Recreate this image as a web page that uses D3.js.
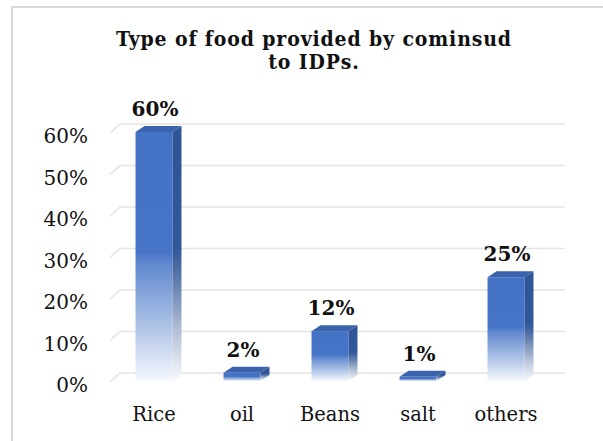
<!DOCTYPE html>
<html>
<head>
<meta charset="utf-8">
<script src="https://cdn.jsdelivr.net/npm/d3@7"></script>
<style>
  html, body { margin: 0; padding: 0; background: #fff; }
  svg { display: block; }
  text { font-family: "DejaVu Serif", "Liberation Serif", serif; fill: #111; }
</style>
</head>
<body>
<svg id="chart" width="603" height="441"></svg>
<script>
// Food types distributed and their shares
const categories = ["Rice", "oil", "Beans", "salt", "others"];
const shares = [0.60, 0.02, 0.12, 0.01, 0.25];
const tickValues = [0, 0.1, 0.2, 0.3, 0.4, 0.5, 0.6];
const titleLines = ["Type of food provided by cominsud", "to IDPs."];

const svg = d3.select("#chart");
const W = 603, H = 441;

// outer frame
svg.append("rect")
  .attr("x", 12).attr("y", 7)
  .attr("width", W).attr("height", H)
  .attr("fill", "#fff")
  .attr("stroke", "#d9d9d9").attr("stroke-width", 2);

// plotting area
const plot = { left: 110, right: 550, bottom: 381, top: 132 };
const floorDx = 10, floorDy = -9;   // depth of back wall
const barDx = 9, barDy = -6;        // depth of each column

const x = d3.scaleBand()
  .domain(categories)
  .range([plot.left, plot.right])
  .paddingInner(0.58)
  .paddingOuter(0.29);

const y = d3.scaleLinear()
  .domain([0, 0.6])
  .range([plot.bottom, plot.top]);

const fmt = d3.format(".0%");

// gridlines on the back wall with the floor diagonal at the left
const grid = svg.append("g").attr("stroke", "#e4e4e4").attr("stroke-width", 1.6).attr("fill", "none");
tickValues.forEach(v => {
  const yy = y(v) + 1;
  grid.append("path")
    .attr("d", `M${plot.left},${yy} L${plot.left + floorDx},${yy + floorDy} L${plot.right + 15},${yy + floorDy}`);
});

// y axis labels
svg.append("g").selectAll("text")
  .data(tickValues)
  .join("text")
  .attr("x", 88)
  .attr("y", d => y(d) + 4)
  .attr("dy", "0.35em")
  .attr("text-anchor", "end")
  .attr("font-size", 20)
  .text(d => fmt(d));

// gradients: solid blue in the upper half, fading out toward the base
const defs = svg.append("defs");
function fade(id, stops) {
  const g = defs.append("linearGradient").attr("id", id)
    .attr("x1", 0).attr("y1", 0).attr("x2", 0).attr("y2", 1);
  stops.forEach(s => g.append("stop").attr("offset", s[0]).attr("stop-color", s[1]));
}
fade("frontFade", [[0, "#4472c4"], [0.48, "#4674c6"], [0.53, "#6189cf"], [0.8, "#b4c7e8"], [1, "#f5f8fd"]]);
fade("sideFade", [[0, "#2f5597"], [0.48, "#30579a"], [0.55, "#4a6aa3"], [0.85, "#c5cfe0"], [1, "#f7f8fb"]]);

const bars = svg.append("g").selectAll("g")
  .data(categories.map((c, i) => ({ cat: c, v: shares[i] })))
  .join("g");

// front face
bars.append("rect")
  .attr("x", d => x(d.cat))
  .attr("y", d => y(d.v))
  .attr("width", x.bandwidth())
  .attr("height", d => y(0) - y(d.v))
  .attr("fill", "url(#frontFade)");

// right side face
bars.append("path")
  .attr("d", d => {
    const x1 = x(d.cat) + x.bandwidth(), t = y(d.v), b = y(0);
    return `M${x1},${t} L${x1 + barDx},${t + barDy} L${x1 + barDx},${b + barDy} L${x1},${b} Z`;
  })
  .attr("fill", "url(#sideFade)");

// top face
bars.append("path")
  .attr("d", d => {
    const x0 = x(d.cat), x1 = x0 + x.bandwidth(), t = y(d.v);
    return `M${x0},${t} L${x0 + barDx},${t + barDy} L${x1 + barDx},${t + barDy} L${x1},${t} Z`;
  })
  .attr("fill", "#3b63ad");

// value labels
bars.append("text")
  .attr("x", d => x(d.cat) + x.bandwidth() / 2 + 1)
  .attr("y", d => y(d.v) + barDy - 10)
  .attr("text-anchor", "middle")
  .attr("font-size", 20)
  .attr("font-weight", "bold")
  .text(d => fmt(d.v));

// category labels
svg.append("g").selectAll("text")
  .data(categories)
  .join("text")
  .attr("x", d => x(d) + x.bandwidth() / 2)
  .attr("y", 421)
  .attr("text-anchor", "middle")
  .attr("font-size", 19.5)
  .text(d => d);

// title in a condensed bold face, sized so the first line spans its intended width
const title = svg.append("g")
  .style("font-stretch", "condensed")
  .attr("font-weight", "bold")
  .attr("text-anchor", "middle");
const t1 = title.append("text")
  .attr("x", 314).attr("y", 46)
  .attr("font-size", 18)
  .text(titleLines[0]);
const size = Math.min(21, 18 * 395 / t1.node().getComputedTextLength());
t1.attr("font-size", size);
const spare = 395 - t1.node().getComputedTextLength();
const spacing = spare > 0 ? spare / (titleLines[0].length - 1) : 0;
t1.attr("letter-spacing", spacing);
title.append("text")
  .attr("x", 314).attr("y", 69)
  .attr("font-size", size)
  .attr("letter-spacing", spacing)
  .text(titleLines[1]);
</script>
</body>
</html>
